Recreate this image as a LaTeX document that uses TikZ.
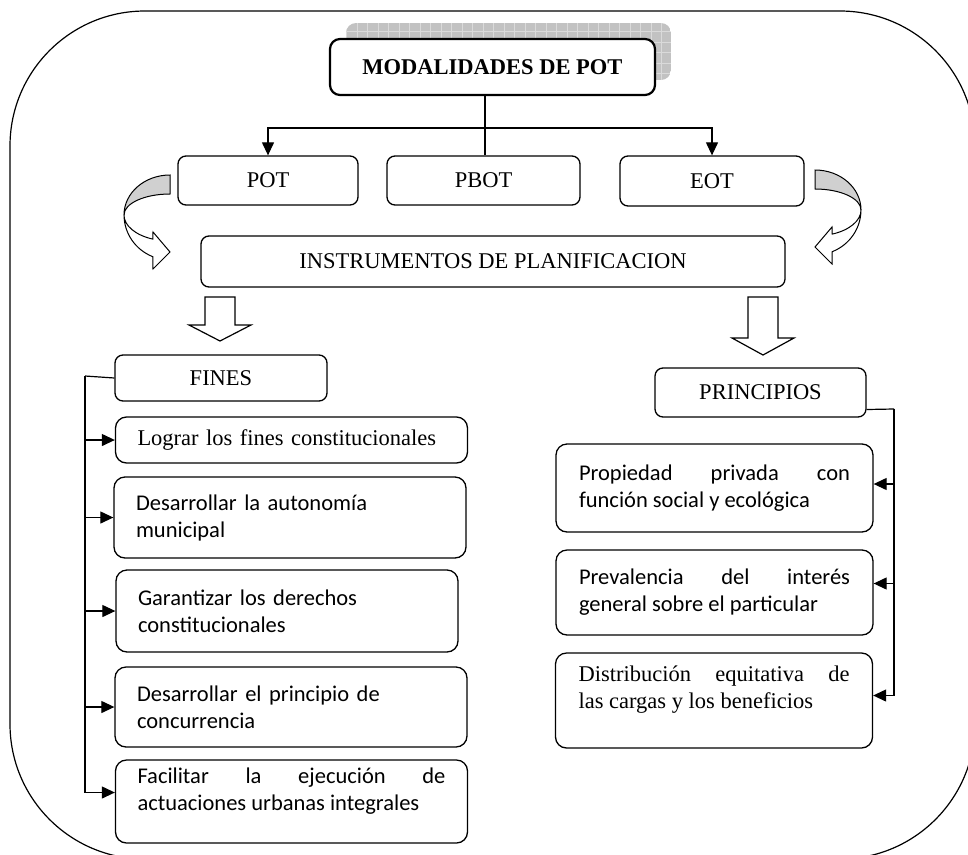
\documentclass[tikz,border=0pt]{standalone}
\usepackage{fontspec}
\setmainfont{Liberation Serif}
\newfontfamily\carlito{Carlito}
\usepackage{tikz}
\usetikzlibrary{arrows.meta,calc,positioning}
\definecolor{ShadowGray}{HTML}{C2C2C2}
\definecolor{GridGray}{HTML}{DADADA}
\definecolor{BandGray}{HTML}{D0D0D0}
\hyphenpenalty=10000
\tikzset{
  potbox/.style={draw, line width=1.3pt, fill=white, rounded corners=8pt, align=center, inner sep=4pt, font=\fontsize{22.5}{27}\selectfont},
  titlebox/.style={potbox, line width=2.2pt, rounded corners=10pt, font=\fontsize{22.5}{27}\selectfont\bfseries},
  finbox/.style={draw, line width=1.3pt, rounded corners=11pt, align=left, inner xsep=22pt, inner ysep=4pt, text width=308pt},
  princbox/.style={finbox, align=justify, inner xsep=23pt, text width=271pt},
  sanstext/.style={font=\carlito\fontsize{22.5}{27}\selectfont},
  seriftext/.style={font=\fontsize{22.5}{27}\selectfont},
  conn/.style={line width=1.2pt, -{Triangle[length=13pt, width=12pt]}},
  plainline/.style={line width=1.2pt},
  blockarrow/.style={draw, line width=1.2pt, fill=white, line join=miter},
  bandback/.style={draw, line width=1pt, fill=BandGray},
  bandfront/.style={draw, line width=1pt, fill=white}
}

\begin{document}
\begin{tikzpicture}[x=1pt, y=1pt]
  \useasboundingbox (0,0) rectangle (968,-854);
  \draw[line width=1.2pt, rounded corners=135pt] (10,-11) rectangle (975,-859);

  \begin{scope}
    \clip[rounded corners=10pt] (346,-23) rectangle (671,-80);
    \fill[ShadowGray] (346,-23) rectangle (671,-80);
    \draw[GridGray, line width=0.5pt, step=10.5] (346,-23) grid (671,-80);
  \end{scope}

  \node[titlebox, minimum width=325pt, minimum height=56pt] (mod) at (492.5,-67) {MODALIDADES DE POT};
  \node[potbox, minimum width=180pt, minimum height=49pt] (pot) at (268,-180.5) {POT};
  \node[potbox, minimum width=193pt, minimum height=49pt] (pbot) at (483.5,-180.5) {PBOT};
  \node[potbox, minimum width=184pt, minimum height=50pt] (eot) at (712,-181) {EOT};
  \node[potbox, minimum width=584pt, minimum height=51pt] (inst) at (493,-261.5) {INSTRUMENTOS DE PLANIFICACION};

  \coordinate (split) at (485,-128);
  \draw[plainline] (mod.south -| split) -- (pbot.north -| split);
  \draw[conn] (split) -| (pot);
  \draw[conn] (split) -| (eot);

  \foreach \cx/\cy/\sx in {170/-215/1, 815/-210/-1} {
    \begin{scope}[shift={(\cx,\cy)}, xscale=\sx]
      \draw[bandback] (0,40) arc[start angle=90, end angle=180, x radius=46, y radius=40]
        arc[start angle=180, end angle=90, x radius=46, y radius=21] -- cycle;
      \draw[bandfront] (-46,0) arc[start angle=180, end angle=248, x radius=46, y radius=26]
        -- (-17,-17) -- (0,-37) -- (-17,-54) -- (-17.2,-41.7)
        arc[start angle=248, end angle=180, x radius=46, y radius=45] -- cycle;
    \end{scope}
  }

  \foreach \ax/\ab/\at in {220/325/341, 763/338/355} {
    \draw[blockarrow] (\ax-15,-297) -- (\ax-15,-\ab) -- (\ax-31,-\ab) -- (\ax,-\at)
      -- (\ax+31,-\ab) -- (\ax+15,-\ab) -- (\ax+15,-297) -- cycle;
  }

  \node[potbox, minimum width=212pt, minimum height=46pt] (fines) at (221,-378) {FINES};
  \node[finbox, seriftext, minimum height=46pt] (f1) at (291.5,-440) {Lograr los fines constitucionales};
  \node[finbox, sanstext, minimum height=81pt] (f2) at (290,-517.5) {Desarrollar la autonomía\\municipal};
  \node[finbox, sanstext, text width=298pt, minimum height=82pt] (f3) at (287,-611) {Garantizar los derechos\\constitucionales};
  \node[finbox, sanstext, minimum height=80pt] (f4) at (291,-707) {Desarrollar el principio de\\concurrencia};
  \node[finbox, sanstext, align=justify, text depth=52pt, minimum height=83pt] (f5) at (291.5,-801.5) {Facilitar la ejecución de\linebreak actuaciones urbanas integrales};

  \coordinate (fbus) at (85,-376);
  \draw[plainline] (fines.west) -- (fbus);
  \draw[conn] (fbus) |- ([yshift=9pt]f5.west);
  \foreach \k in {1,...,4}
    \draw[conn] (fbus |- f\k.west) -- (f\k.west);

  \node[potbox, minimum width=211pt, minimum height=49pt] (princ) at (760.5,-392.5) {PRINCIPIOS};
  \node[princbox, sanstext, minimum height=88pt] (p1) at (714.5,-488) {Propiedad privada con\linebreak función social y ecológica};
  \node[princbox, sanstext, minimum height=85pt] (p2) at (714.5,-592.5) {Prevalencia del interés\linebreak general sobre el particular};
  \node[princbox, seriftext, text depth=54pt, minimum height=95pt] (p3) at (714,-700.5) {Distribución equitativa de\linebreak las cargas y los beneficios};

  \coordinate (pbus) at (894,-409);
  \draw[plainline] ([yshift=-17pt]princ.east) -- (pbus);
  \draw[conn] (pbus) |- ([yshift=5pt]p3.east);
  \foreach \k/\dy in {1/4, 2/9}
    \draw[conn] (pbus |- p\k.east) ++(0,\dy) -- ([yshift=\dy pt]p\k.east);
\end{tikzpicture}
\end{document}
